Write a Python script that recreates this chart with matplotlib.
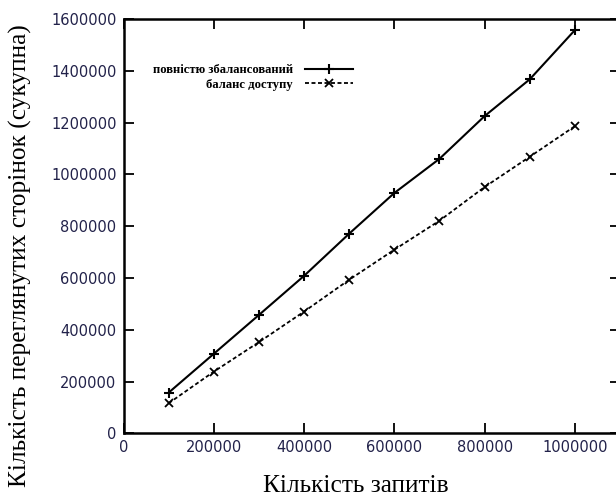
import matplotlib
matplotlib.use("Agg")
import matplotlib.pyplot as plt
from matplotlib.ticker import MultipleLocator, StrMethodFormatter

requests = [100000, 200000, 300000, 400000, 500000, 600000, 700000, 800000, 900000, 1000000]
fully_balanced = [157000, 307000, 457000, 608000, 771000, 928000, 1060000, 1225000, 1367000, 1557000]
access_balance = [116000, 238000, 352000, 470000, 593000, 709000, 821000, 951000, 1068000, 1186000]

label_full = "повністю збалансований"
label_access = "баланс доступу"
xlabel = "Кількість запитів"
ylabel = "Кількість переглянутих сторінок (сукупна)"

W, H = 616, 497
fig = plt.figure(figsize=(W / 100, H / 100), dpi=100)
ax_l, ax_r, ax_t, ax_b = 123.5, 620.0, 19.0, 433.3
ax = fig.add_axes([ax_l / W, 1 - ax_b / H, (ax_r - ax_l) / W, (ax_b - ax_t) / H])

ax.plot(requests, fully_balanced, color="black", lw=1.5, ls="-", marker="+",
        ms=6.5, mew=1.5, label=label_full)
ax.plot(requests, access_balance, color="black", lw=1.3, ls=(0, (2.2, 1.4)),
        marker="x", ms=6, mew=1.3, label=label_access)

ax.set_xlim(0, 1100000)
ax.set_ylim(0, 1600000)
ax.xaxis.set_major_locator(MultipleLocator(200000))
ax.yaxis.set_major_locator(MultipleLocator(200000))
ax.xaxis.set_major_formatter(StrMethodFormatter("{x:.0f}"))
ax.yaxis.set_major_formatter(StrMethodFormatter("{x:.0f}"))
ax.tick_params(direction="in", length=7, width=1.3, top=True, right=True,
               labelsize=10.5, labelcolor="#22224a", pad=5)
for lab in ax.get_xticklabels() + ax.get_yticklabels():
    lab.set_family("DejaVu Sans")
for s in ax.spines.values():
    s.set_linewidth(1.8)

leg_x = (353 - ax_l) / (ax_r - ax_l)
leg_y = 1 - (64 - ax_t) / (ax_b - ax_t)
leg = ax.legend(loc="upper right", bbox_to_anchor=(leg_x, leg_y),
                frameon=False, markerfirst=False, handlelength=3.8,
                handletextpad=0.95, labelspacing=0.22, borderaxespad=0,
                borderpad=0,
                prop={"family": "Liberation Serif", "weight": "bold", "size": 9.1})

fig.text(356 / W, 0.0, xlabel, ha="center", va="bottom",
         family="Liberation Serif", fontsize=18.3)
fig.text(27 / W, 1 - 256 / H, ylabel, ha="center", va="baseline", rotation=90,
         rotation_mode="anchor", family="Liberation Serif", fontsize=18.3)

fig.savefig("out.png", dpi=100)
